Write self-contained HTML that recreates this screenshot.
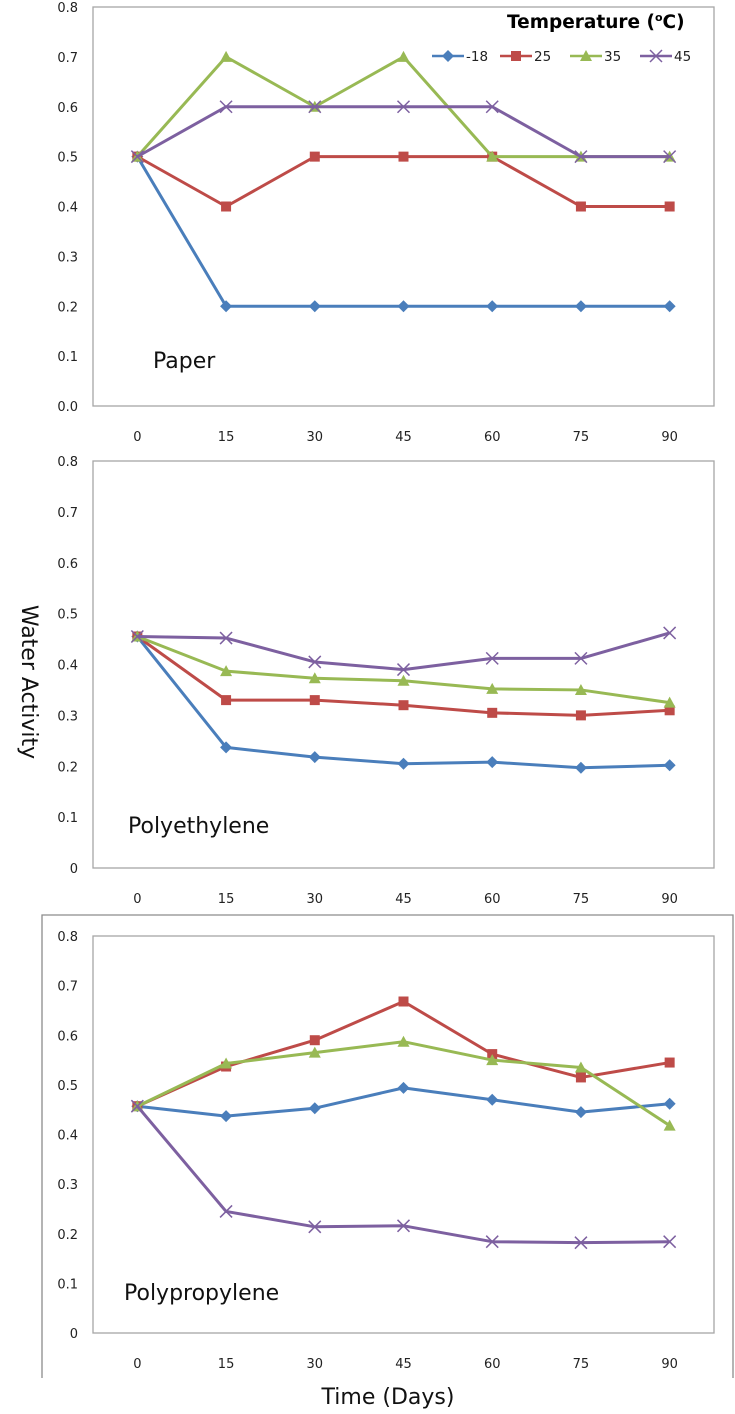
<!DOCTYPE html>
<html><head><meta charset="utf-8"><style>
html,body{margin:0;padding:0;background:#fff;}
svg{display:block;font-family:"DejaVu Sans","Liberation Sans",sans-serif;}
</style></head><body>
<svg id="chart" width="735" height="1414" viewBox="0 0 735 1414" xmlns="http://www.w3.org/2000/svg"></svg>
<script>
const categories = [0, 15, 30, 45, 60, 75, 90];
const seriesNames = ["-18", "25", "35", "45"];
const paperMinus18 = [0.5, 0.2, 0.2, 0.2, 0.2, 0.2, 0.2];
const paper25 = [0.5, 0.4, 0.5, 0.5, 0.5, 0.4, 0.4];
const paper35 = [0.5, 0.7, 0.6, 0.7, 0.5, 0.5, 0.5];
const paper45 = [0.5, 0.6, 0.6, 0.6, 0.6, 0.5, 0.5];
const peMinus18 = [0.455, 0.237, 0.218, 0.205, 0.208, 0.197, 0.202];
const pe25 = [0.455, 0.33, 0.33, 0.32, 0.305, 0.30, 0.31];
const pe35 = [0.455, 0.387, 0.373, 0.368, 0.352, 0.35, 0.325];
const pe45 = [0.455, 0.452, 0.405, 0.39, 0.412, 0.412, 0.462];
const ppMinus18 = [0.457, 0.437, 0.453, 0.494, 0.470, 0.445, 0.462];
const pp25 = [0.457, 0.537, 0.59, 0.668, 0.562, 0.515, 0.545];
const pp35 = [0.457, 0.543, 0.565, 0.587, 0.550, 0.535, 0.418];
const pp45 = [0.457, 0.245, 0.214, 0.216, 0.184, 0.182, 0.184];
const yTicksPaper = ["0.0","0.1","0.2","0.3","0.4","0.5","0.6","0.7","0.8"];
const yTicksOther = ["0","0.1","0.2","0.3","0.4","0.5","0.6","0.7","0.8"];

const NS = "http://www.w3.org/2000/svg";
const svg = document.getElementById("chart");
const colors = ["#4a7ebb", "#be4b48", "#98b954", "#7d60a0"];
const markers = ["diamond", "square", "triangle", "cross"];
function el(tag, attrs, parent) {
  const e = document.createElementNS(NS, tag);
  for (const k in attrs) e.setAttribute(k, attrs[k]);
  (parent || svg).appendChild(e);
  return e;
}
function marker(g, type, x, y, c) {
  let m;
  if (type === "diamond") m = el("polygon", {points: `${x},${y-6} ${x+6},${y} ${x},${y+6} ${x-6},${y}`, fill: c}, g);
  else if (type === "square") m = el("rect", {x: x-5, y: y-5, width: 10, height: 10, fill: c}, g);
  else if (type === "triangle") m = el("polygon", {points: `${x},${y-6} ${x+6},${y+5} ${x-6},${y+5}`, fill: c}, g);
  else m = el("path", {d: `M${x-6},${y-6}L${x+6},${y+6}M${x-6},${y+6}L${x+6},${y-6}`, stroke: c, "stroke-width": 1.5}, g);
  return m;
}
const L = 93, R = 714;
function xScale(i) { return L + (R - L) / categories.length * (i + 0.5); }

function panel(name, top, bottom, series, ticks, label, lx, ly) {
  const g = el("g", {});
  
  
  const yScale = v => bottom - (bottom - top) * v / 0.8;
  const frame = el("rect", {x: L, y: top, width: R - L, height: bottom - top, fill: "none", stroke: "#a6a6a6", "stroke-width": 1.3}, g);
  
  
  ticks.forEach((t, i) => {
    const tx = el("text", {x: 78, y: yScale(i * 0.1) + 5, "text-anchor": "end", "font-size": 13, fill: "#222"}, g);
    tx.textContent = t;
    
    
  });
  categories.forEach((c, i) => {
    const tx = el("text", {x: xScale(i), y: bottom + 35, "text-anchor": "middle", "font-size": 13, fill: "#222"}, g);
    tx.textContent = c;
    
    
  });
  series.forEach((vals, s) => {
    const sg = el("g", {}, g);
    
    
    const pts = vals.map((v, i) => xScale(i) + "," + yScale(v)).join(" ");
    const pl = el("polyline", {points: pts, fill: "none", stroke: colors[s], "stroke-width": 3, "stroke-linejoin": "round"}, sg);
    
    
    vals.forEach((v, i) => {
      const m = marker(sg, markers[s], xScale(i), yScale(v), colors[s]);
      
      
    });
  });
  const lt = el("text", {x: lx, y: ly, "font-size": 22, fill: "#111"}, g);
  lt.textContent = label;
  
  
}

const box = el("path", {d: "M42,1378 L42,915 L733,915 L733,1378", fill: "none", stroke: "#8c8c8c", "stroke-width": 1.3});



panel("paper", 7, 406, [paperMinus18, paper25, paper35, paper45], yTicksPaper, "Paper", 153, 368);
panel("polyethylene", 461, 868, [peMinus18, pe25, pe35, pe45], yTicksOther, "Polyethylene", 128, 833);
panel("polypropylene", 936, 1333, [ppMinus18, pp25, pp35, pp45], yTicksOther, "Polypropylene", 124, 1300);

const lg = el("g", {});


const ltitle = el("text", {x: 507, y: 28, "font-size": 18.5, "font-weight": "bold", fill: "#000"}, lg);
ltitle.textContent = "Temperature (";
const sup = el("tspan", {"font-size": 11, dy: -7}, ltitle);
sup.textContent = "o";
const tC = el("tspan", {dy: 7}, ltitle);
tC.textContent = "C)";


const lxs = [432, 500, 570, 640];
seriesNames.forEach((n, s) => {
  const eg = el("g", {}, lg);
  
  
  el("line", {x1: lxs[s], y1: 56, x2: lxs[s] + 32, y2: 56, stroke: colors[s], "stroke-width": 2.5}, eg);
  marker(eg, markers[s], lxs[s] + 16, 56, colors[s]);
  const t = el("text", {x: lxs[s] + 34, y: 61, "font-size": 13.5, fill: "#222"}, eg);
  t.textContent = n;
});

const yt = el("text", {x: 0, y: 0, "font-size": 22, fill: "#111", "text-anchor": "middle", transform: "translate(22,682) rotate(90)"});
yt.textContent = "Water Activity";


const xt = el("text", {x: 388, y: 1404, "font-size": 22, fill: "#111", "text-anchor": "middle"});
xt.textContent = "Time (Days)";


</script>
</body></html>
